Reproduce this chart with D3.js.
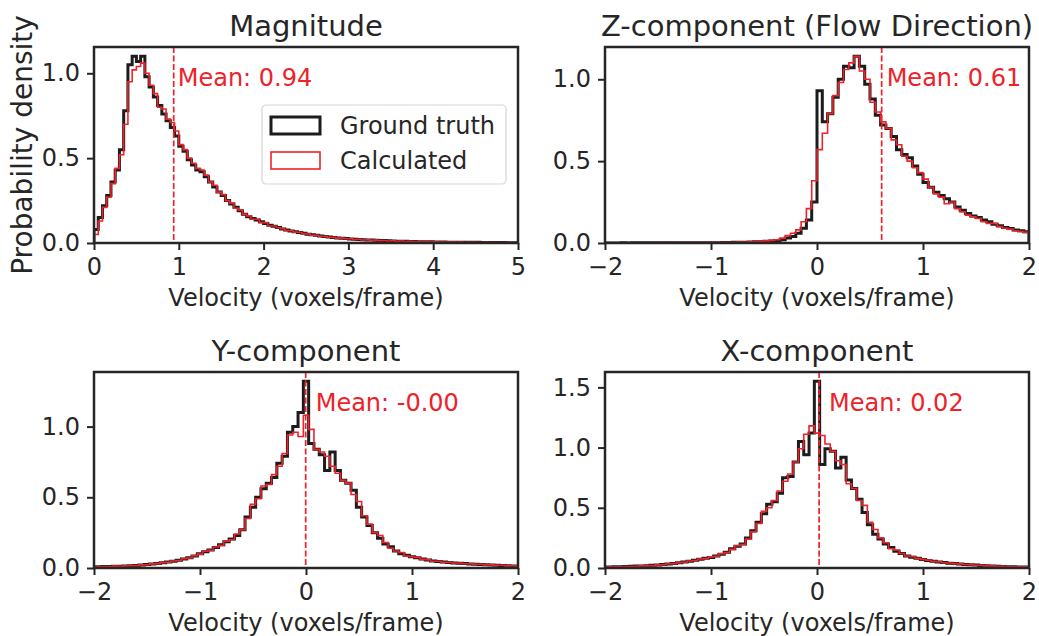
<!DOCTYPE html>
<html>
<head>
<meta charset="utf-8">
<script src="https://cdn.jsdelivr.net/npm/d3@7"></script>
<style>
  body { margin: 0; background: #fff; }
  svg text { font-family: "DejaVu Sans", sans-serif; fill: #262626; }
</style>
</head>
<body>
<div id="chart"></div>
<script>
// Data
const panelTitles = ["Magnitude", "Z-component (Flow Direction)", "Y-component", "X-component"]
const binWidth = 0.05
const binStarts = [0, -2, -2.025, -2.025]
const xDomains = [[0, 5], [-2, 2], [-2, 2], [-2, 2]]
const xTickValues = [[0, 1, 2, 3, 4, 5], [-2, -1, 0, 1, 2], [-2, -1, 0, 1, 2], [-2, -1, 0, 1, 2]]
const yTickValues = [[0, 0.5, 1.0], [0, 0.5, 1.0], [0, 0.5, 1.0], [0, 0.5, 1.0, 1.5]]
const meanValues = [0.94, 0.61, -0.003, 0.02]
const seriesNames = ["Ground truth", "Calculated"]

const magTruth = [
  0.08, 0.15, 0.22, 0.28, 0.36, 0.43, 0.55, 0.78, 1.05, 1.10,
  1.07, 1.10, 0.98, 0.92, 0.86, 0.81, 0.76, 0.72, 0.68, 0.63,
  0.57, 0.54, 0.49, 0.46, 0.43, 0.42, 0.39, 0.36, 0.33, 0.30,
  0.28, 0.25, 0.23, 0.21, 0.19, 0.17, 0.155, 0.145, 0.135, 0.125,
  0.115, 0.105, 0.098, 0.092, 0.082, 0.076, 0.070, 0.066, 0.062, 0.057,
  0.052, 0.048, 0.045, 0.041, 0.038, 0.035, 0.032, 0.030, 0.028, 0.026,
  0.024, 0.022, 0.021, 0.019, 0.018, 0.017, 0.016, 0.015, 0.014, 0.013,
  0.012, 0.011, 0.011, 0.010, 0.009, 0.009, 0.008, 0.008, 0.007, 0.007,
  0.006, 0.006, 0.006, 0.005, 0.005, 0.005, 0.004, 0.004, 0.004, 0.004,
  0.004, 0.003, 0.003, 0.003, 0.003, 0.003, 0.003, 0.002, 0.002, 0.002
]
const magCalc = [
  0.05, 0.13, 0.21, 0.27, 0.35, 0.44, 0.52, 0.70, 0.95, 1.02,
  1.04, 1.06, 1.00, 0.93, 0.88, 0.80, 0.79, 0.73, 0.71, 0.66,
  0.58, 0.55, 0.50, 0.47, 0.44, 0.43, 0.40, 0.36, 0.34, 0.30,
  0.285, 0.25, 0.235, 0.205, 0.195, 0.17, 0.16, 0.14, 0.14, 0.12,
  0.12, 0.10, 0.10, 0.09, 0.085, 0.074, 0.072, 0.064, 0.063, 0.055,
  0.053, 0.046, 0.046, 0.040, 0.039, 0.034, 0.033, 0.029, 0.029, 0.025,
  0.025, 0.021, 0.022, 0.018, 0.019, 0.016, 0.017, 0.014, 0.015, 0.012,
  0.013, 0.010, 0.012, 0.009, 0.010, 0.008, 0.009, 0.007, 0.008, 0.006,
  0.007, 0.005, 0.006, 0.005, 0.005, 0.004, 0.005, 0.003, 0.004, 0.004,
  0.003, 0.003, 0.004, 0.002, 0.003, 0.003, 0.002, 0.002, 0.002, 0.002
]

const zTruth = [
  0.000, 0.000, 0.000, 0.001, 0.000, 0.001, 0.001, 0.001, 0.001, 0.001,
  0.001, 0.001, 0.001, 0.002, 0.001, 0.002, 0.002, 0.002, 0.002, 0.002,
  0.002, 0.002, 0.003, 0.003, 0.004, 0.004, 0.005, 0.006, 0.007, 0.008,
  0.010, 0.012, 0.015, 0.020, 0.030, 0.040, 0.060, 0.090, 0.140, 0.250,
  0.93, 0.74, 0.79, 0.89, 1.00, 1.08, 1.07, 1.14, 1.08, 0.97,
  0.88, 0.78, 0.72, 0.70, 0.65, 0.57, 0.54, 0.52, 0.47, 0.42,
  0.37, 0.34, 0.31, 0.29, 0.27, 0.25, 0.22, 0.20, 0.18, 0.165,
  0.155, 0.14, 0.13, 0.115, 0.105, 0.095, 0.088, 0.080, 0.075, 0.068
]
const zCalc = [
  0.000, 0.001, 0.000, 0.001, 0.001, 0.001, 0.000, 0.001, 0.002, 0.001,
  0.002, 0.001, 0.002, 0.002, 0.003, 0.002, 0.003, 0.002, 0.003, 0.003,
  0.003, 0.003, 0.004, 0.004, 0.005, 0.006, 0.006, 0.008, 0.009, 0.010,
  0.013, 0.016, 0.020, 0.030, 0.045, 0.060, 0.080, 0.130, 0.210, 0.380,
  0.57, 0.67, 0.79, 0.90, 0.98, 1.06, 1.10, 1.14, 1.05, 1.00,
  0.86, 0.80, 0.74, 0.70, 0.63, 0.60, 0.53, 0.50, 0.46, 0.43,
  0.39, 0.34, 0.30, 0.28, 0.24, 0.25, 0.21, 0.19, 0.17, 0.16,
  0.15, 0.13, 0.12, 0.12, 0.10, 0.09, 0.085, 0.075, 0.07, 0.065
]

const yTruth = [
  0.008, 0.009, 0.010, 0.011, 0.012, 0.013, 0.014, 0.016, 0.018, 0.021,
  0.024, 0.028, 0.032, 0.037, 0.042, 0.048, 0.055, 0.064, 0.073, 0.085,
  0.100, 0.115, 0.128, 0.145, 0.165, 0.185, 0.205, 0.23, 0.27, 0.36,
  0.43, 0.50, 0.56, 0.60, 0.64, 0.74, 0.79, 0.96, 1.00, 1.10,
  1.32,
  0.88, 0.84, 0.80, 0.69, 0.82, 0.69, 0.62, 0.60, 0.55, 0.43,
  0.36, 0.30, 0.25, 0.21, 0.17, 0.15, 0.12, 0.10, 0.09, 0.08,
  0.072, 0.064, 0.057, 0.050, 0.046, 0.042, 0.039, 0.036, 0.034, 0.032,
  0.029, 0.027, 0.025, 0.023, 0.021, 0.020, 0.018, 0.016, 0.015, 0.014
]
const yCalc = [
  0.007, 0.009, 0.011, 0.010, 0.013, 0.012, 0.015, 0.017, 0.017, 0.022,
  0.023, 0.029, 0.031, 0.038, 0.041, 0.050, 0.053, 0.066, 0.071, 0.087,
  0.098, 0.118, 0.125, 0.148, 0.160, 0.190, 0.200, 0.240, 0.270, 0.350,
  0.45, 0.49, 0.58, 0.59, 0.66, 0.72, 0.81, 0.94, 0.96, 0.93,
  1.08,
  0.98, 0.84, 0.82, 0.79, 0.72, 0.67, 0.62, 0.60, 0.52, 0.47,
  0.37, 0.31, 0.25, 0.23, 0.18, 0.14, 0.12, 0.11, 0.085, 0.08,
  0.075, 0.061, 0.059, 0.048, 0.048, 0.040, 0.041, 0.035, 0.035, 0.030,
  0.030, 0.026, 0.026, 0.022, 0.022, 0.019, 0.019, 0.015, 0.016, 0.013
]

const xTruth = [
  0.008, 0.009, 0.010, 0.011, 0.012, 0.014, 0.016, 0.017, 0.019, 0.022,
  0.025, 0.029, 0.034, 0.038, 0.044, 0.050, 0.056, 0.064, 0.072, 0.080,
  0.088, 0.100, 0.115, 0.130, 0.160, 0.180, 0.200, 0.250, 0.310, 0.380,
  0.45, 0.53, 0.55, 0.62, 0.75, 0.76, 0.88, 1.05, 0.94, 1.12,
  1.55,
  0.86, 0.99, 0.97, 0.83, 0.92, 0.73, 0.66, 0.57, 0.46, 0.36,
  0.28, 0.24, 0.20, 0.17, 0.14, 0.12, 0.10, 0.09, 0.08, 0.07,
  0.063, 0.057, 0.050, 0.045, 0.040, 0.037, 0.033, 0.030, 0.027, 0.024,
  0.021, 0.019, 0.017, 0.015, 0.013, 0.011, 0.010, 0.009, 0.008, 0.007
]
const xCalc = [
  0.007, 0.009, 0.011, 0.010, 0.013, 0.013, 0.015, 0.018, 0.018, 0.021,
  0.026, 0.027, 0.035, 0.036, 0.045, 0.048, 0.058, 0.062, 0.075, 0.078,
  0.092, 0.098, 0.118, 0.128, 0.155, 0.185, 0.195, 0.240, 0.300, 0.370,
  0.47, 0.50, 0.56, 0.64, 0.72, 0.78, 0.88, 0.99, 1.11, 1.18,
  1.12,
  1.10, 1.03, 0.97, 0.89, 0.86, 0.70, 0.66, 0.56, 0.52, 0.38,
  0.32, 0.25, 0.21, 0.16, 0.15, 0.12, 0.10, 0.095, 0.08, 0.072,
  0.065, 0.055, 0.052, 0.044, 0.042, 0.036, 0.034, 0.029, 0.028, 0.023,
  0.022, 0.018, 0.018, 0.014, 0.014, 0.011, 0.011, 0.009, 0.009, 0.007
]

const truthSeries = [magTruth, zTruth, yTruth, xTruth]
const calcSeries = [magCalc, zCalc, yCalc, xCalc]

// Dimensions
const dimensions = { width: 1039, height: 636 }
const cols = [[94, 518], [605, 1029]]
const rows = [[47, 243], [372, 568]]
const meanTextOffsets = [4, 5, 10, 10]

const ink = "#262626"
const truthColor = "#1c1c1c"
const calcColor = "#ee2229"

const svg = d3.select("#chart")
  .append("svg")
  .attr("width", dimensions.width)
  .attr("height", dimensions.height)

const minus = s => s.replace("-", "\u2212")

panelTitles.forEach((title, i) => {
  const [x0, x1] = cols[i % 2]
  const [y0, y1] = rows[Math.floor(i / 2)]
  const w = x1 - x0
  const h = y1 - y0

  const truth = truthSeries[i]
  const calc = calcSeries[i]

  const xScale = d3.scaleLinear().domain(xDomains[i]).range([0, w])
  const yMax = d3.max([...truth, ...calc]) * 1.05
  const yScale = d3.scaleLinear().domain([0, yMax]).range([h, 0])

  const ctr = svg.append("g").attr("transform", `translate(${x0}, ${y0})`)

  ctr.append("clipPath").attr("id", `clip${i}`)
    .append("rect").attr("width", w).attr("height", h)

  // step outline like matplotlib histtype='step'
  const stepPoints = vals => {
    const pts = [[binStarts[i], 0]]
    vals.forEach((v, k) => {
      const e = binStarts[i] + k * binWidth
      pts.push([e, v], [e + binWidth, v])
    })
    pts.push([binStarts[i] + vals.length * binWidth, 0])
    return pts
  }
  const lineGenerator = d3.line()
    .x(d => xScale(d[0]))
    .y(d => yScale(d[1]))

  const plot = ctr.append("g").attr("clip-path", `url(#clip${i})`)

  plot.append("path")
    .datum(stepPoints(truth))
    .attr("d", lineGenerator)
    .attr("fill", "none")
    .attr("stroke", truthColor)
    .attr("stroke-width", 3)
    .attr("stroke-linejoin", "miter")

  plot.append("path")
    .datum(stepPoints(calc))
    .attr("d", lineGenerator)
    .attr("fill", "none")
    .attr("stroke", calcColor)
    .attr("stroke-width", 1.6)

  // mean line
  const mx = xScale(meanValues[i])
  plot.append("line")
    .attr("x1", mx).attr("x2", mx)
    .attr("y1", 0).attr("y2", h)
    .attr("stroke", calcColor)
    .attr("stroke-width", 1.7)
    .attr("stroke-dasharray", "6,2.5")

  ctr.append("text")
    .attr("x", mx + meanTextOffsets[i])
    .attr("y", 39)
    .style("font-size", "24px")
    .style("fill", calcColor)
    .text(`Mean: ${meanValues[i].toFixed(2)}`)

  // Axes
  const xAxis = d3.axisBottom(xScale)
    .tickValues(xTickValues[i])
    .tickFormat(d => minus(d3.format("d")(d)))
    .tickSizeOuter(0)
    .tickSize(7)
    .tickPadding(8)
  const yAxis = d3.axisLeft(yScale)
    .tickValues(yTickValues[i])
    .tickFormat(d3.format(".1f"))
    .tickSizeOuter(0)
    .tickSize(7)
    .tickPadding(7)

  const xAxisGroup = ctr.append("g")
    .attr("transform", `translate(0, ${h})`)
    .call(xAxis)
  const yAxisGroup = ctr.append("g")
    .call(yAxis)

  ;[xAxisGroup, yAxisGroup].forEach(g => {
    g.select(".domain").remove()
    g.selectAll(".tick line").attr("stroke", ink).attr("stroke-width", 2)
    g.selectAll(".tick text")
      .attr("fill", ink)
      .style("font-size", "24px")
      .style("font-family", "DejaVu Sans")
  })

  // frame
  ctr.append("rect")
    .attr("width", w).attr("height", h)
    .attr("fill", "none")
    .attr("stroke", ink)
    .attr("stroke-width", 2.5)

  ctr.append("text")
    .attr("x", w / 2)
    .attr("y", h + 63)
    .attr("text-anchor", "middle")
    .style("font-size", "24px")
    .text("Velocity (voxels/frame)")

  ctr.append("text")
    .attr("x", w / 2)
    .attr("y", -11)
    .attr("text-anchor", "middle")
    .style("font-size", "29px")
    .text(title)

  if (i === 0) {
    ctr.append("text")
      .attr("transform", `translate(${-62}, ${h / 2}) rotate(-90)`)
      .attr("text-anchor", "middle")
      .style("font-size", "28px")
      .text("Probability density")

    // legend
    const lg = ctr.append("g").attr("transform", `translate(${262 - x0}, ${105 - y0})`)
    lg.append("rect")
      .attr("width", 244).attr("height", 79)
      .attr("rx", 4)
      .attr("fill", "#fff").attr("fill-opacity", 0.8)
      .attr("stroke", "#d6d6d6").attr("stroke-width", 1.2)
    const legendColors = [truthColor, calcColor]
    const legendWidths = [3, 1.6]
    seriesNames.forEach((name, k) => {
      lg.append("rect")
        .attr("x", 9).attr("y", 12 + k * 35)
        .attr("width", 49).attr("height", 17)
        .attr("fill", "none")
        .attr("stroke", legendColors[k])
        .attr("stroke-width", legendWidths[k])
      lg.append("text")
        .attr("x", 78).attr("y", 29 + k * 35)
        .style("font-size", "24px")
        .text(name)
    })
  }
})
</script>
</body>
</html>
